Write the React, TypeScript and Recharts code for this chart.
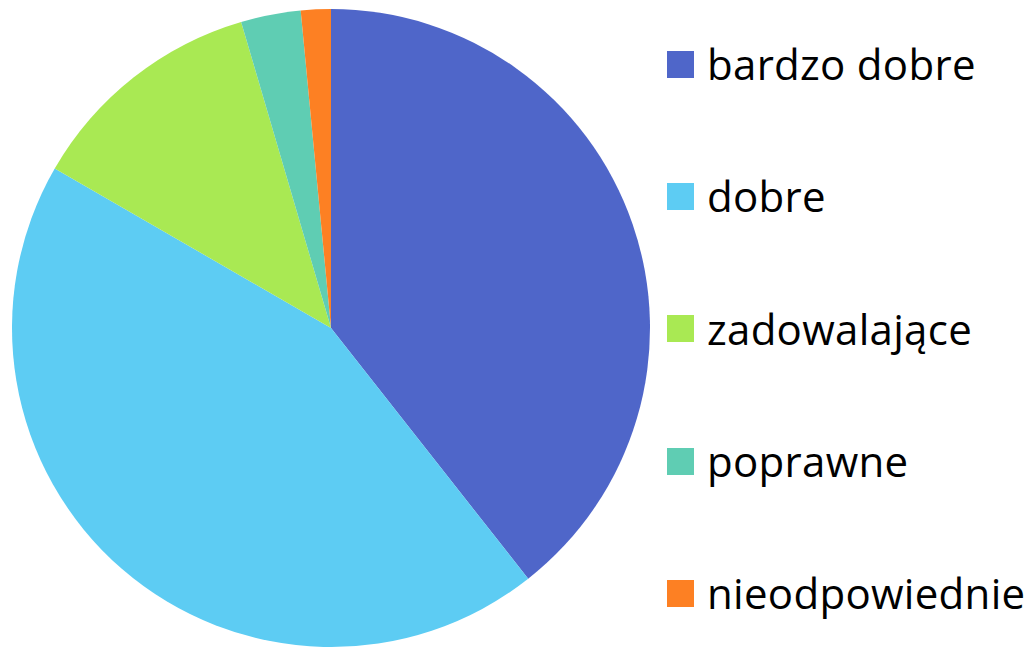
import React from "react";
import { Cell, Legend, Pie, PieChart } from "recharts";

const categories = ["bardzo dobre", "dobre", "zadowalające", "poprawne", "nieodpowiednie"];
const counts = [26, 29, 8, 2, 1];
const colors = ["#4F66C9", "#5DCCF3", "#A9E953", "#5FCDB3", "#FD8023"];

const data = categories.map((name, i) => ({ name, value: counts[i] }));

const SideLegend = () => (
    <div style={{ fontFamily: "'Open Sans', sans-serif" }}>
        {categories.map((name, i) => (
            <div key={name} style={{ height: 132.3, display: "flex", alignItems: "center" }}>
                <div style={{ width: 27, height: 27, background: colors[i], marginRight: 13 }} />
                <span style={{ fontSize: 42, lineHeight: "50px", color: "#000", whiteSpace: "nowrap", letterSpacing: 0.3 }}>{name}</span>
            </div>
        ))}
    </div>
);

const App = () => {
    return (
        <div>
            <style>{"body{margin:0}"}</style>
            <PieChart width={1036} height={647} margin={{ top: 0, right: 0, bottom: 0, left: 0 }}>
                <Pie
                    data={data}
                    dataKey="value"
                    nameKey="name"
                    cx={331}
                    cy={328}
                    outerRadius={319}
                    startAngle={90}
                    endAngle={-270}
                    stroke="none"
                    isAnimationActive={false}
                >
                    {data.map((d, i) => (
                        <Cell key={d.name} fill={colors[i]} />
                    ))}
                </Pie>
                <Legend
                    content={SideLegend}
                    wrapperStyle={{ left: 667, top: -2, width: 369 }}
                />
            </PieChart>
        </div>
    );
}

export default App;
